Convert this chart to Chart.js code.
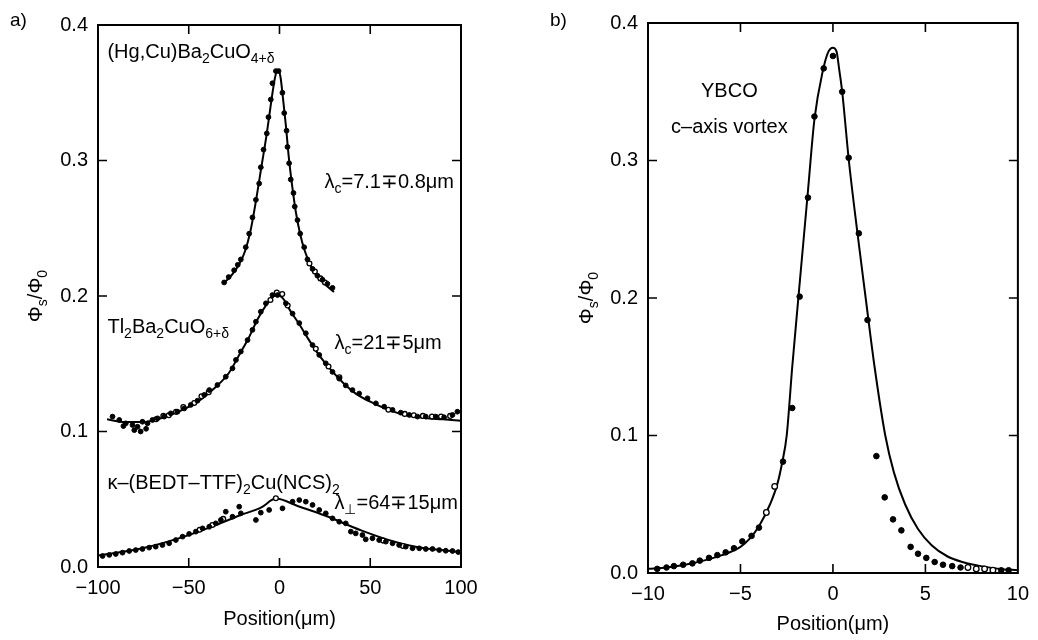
<!DOCTYPE html>
<html>
<head>
<meta charset="utf-8">
<script src="https://cdn.jsdelivr.net/npm/chart.js@4"></script>
<style>
  body { margin: 0; background: #fff; width: 1038px; height: 640px; position: relative; overflow: hidden; }
  .panel { position: absolute; top: 0; height: 640px; }
  #wrapA { left: 0; width: 520px; }
  #wrapB { left: 540px; width: 498px; }
</style>
</head>
<body>
<div class="panel" id="wrapA"><canvas id="chartA"></canvas></div>
<div class="panel" id="wrapB"><canvas id="chartB"></canvas></div>
<script>
// ---- panel a) ----
const xTicksA = [-100, -50, 0, 50, 100];
const yTicks = [0, 0.1, 0.2, 0.3, 0.4];

// (Hg,Cu)Ba2CuO4+d
const hgFitX = [-31, -26, -22, -19, -16, -13, -10, -7, -4.5, -2.5, -1, 0.5, 2, 3.5, 5, 7, 9, 11.5, 14, 17, 20, 24, 30];
const hgFitY = [0.209, 0.216, 0.224, 0.233, 0.248, 0.270, 0.295, 0.320, 0.344, 0.361, 0.367, 0.362, 0.345, 0.326, 0.304, 0.281, 0.262, 0.245, 0.233, 0.223, 0.216, 0.210, 0.203];
const hgPtsX = [-30.5, -28, -25, -23, -21.3, -18.6, -16.7, -14.9, -13.0, -11.2, -10.3, -8.8, -7.0, -6.1, -4.8, -3.9, -2.0, -0.5, 1.6, 2.6, 3.9, 4.4, 5.3, 6.2, 7.7, 8.4, 9.9, 11.4, 13.6, 15.4, 18.2, 20.9, 23.7, 26.4, 29.2];
const hgPtsY = [0.210, 0.214, 0.219, 0.223, 0.227, 0.236, 0.246, 0.258, 0.271, 0.283, 0.295, 0.308, 0.320, 0.332, 0.345, 0.357, 0.366, 0.366, 0.350, 0.335, 0.322, 0.310, 0.298, 0.286, 0.276, 0.266, 0.256, 0.246, 0.236, 0.227, 0.220, 0.215, 0.212, 0.209, 0.206];
const hgOpenX = [16.5, 19.5, 22.5, 25];
const hgOpenY = [0.224, 0.218, 0.213, 0.210];

// Tl2Ba2CuO6+d
const tlFitX = [-95, -85, -75, -65, -55, -45, -35, -28, -22, -17, -12, -7, -3, -1, 2, 6, 11, 16, 22, 28, 35, 42, 50, 60, 70, 80, 90, 100];
const tlFitY = [0.109, 0.107, 0.107, 0.110, 0.115, 0.122, 0.133, 0.143, 0.157, 0.169, 0.183, 0.194, 0.200, 0.201, 0.198, 0.189, 0.179, 0.168, 0.156, 0.146, 0.136, 0.128, 0.122, 0.116, 0.112, 0.110, 0.109, 0.108];
const tlPtsX = [-92, -88.3, -84.7, -81, -78.2, -75.5, -72.7, -70, -67.2, -63.5, -59.9, -56.2, -52.5, -48.9, -45.2, -41.5, -38.7, -34.2, -29.6, -25.9, -24, -21.3, -17.6, -14.9, -13, -10.3, -7.5, -3.9, -1.1, 3.5, 7.2, 10.9, 14.5, 18.2, 21.9, 25.5, 29.2, 32.9, 36.5, 40.2, 43.9, 48.5, 53.1, 57.7, 62.3, 66.8, 71.5, 76, 80.6, 86.1, 90.7, 95.3, 98, -86, -80, -76.5, -73.5];
const tlPtsY = [0.111, 0.1085, 0.106, 0.1048, 0.1035, 0.1072, 0.106, 0.1085, 0.1097, 0.111, 0.1134, 0.1146, 0.117, 0.1196, 0.1227, 0.127, 0.1306, 0.1343, 0.1404, 0.1466, 0.1528, 0.159, 0.1675, 0.175, 0.181, 0.1884, 0.1946, 0.2007, 0.2007, 0.1946, 0.187, 0.18, 0.1725, 0.1638, 0.1565, 0.1503, 0.144, 0.139, 0.134, 0.1306, 0.128, 0.1245, 0.1208, 0.1183, 0.1159, 0.1139, 0.1122, 0.111, 0.111, 0.111, 0.1105, 0.1122, 0.1146, 0.104, 0.101, 0.100, 0.102];
const tlOpenX = [-68, -64, -61, -57, -53, -47, -43, -39, -5, -1.5, 1.5, 4.5, 20, 27, 33, 60, 69, 74, 79, 84, 89, 94];
const tlOpenY = [0.109, 0.1115, 0.112, 0.1145, 0.118, 0.121, 0.126, 0.129, 0.197, 0.2025, 0.2015, 0.193, 0.161, 0.148, 0.140, 0.116, 0.113, 0.112, 0.1115, 0.111, 0.111, 0.1115];

// k-(BEDT-TTF)2Cu(NCS)2
const etFitX = [-100, -75, -50, -35, -22, -10, -2, 10, 25, 45, 60, 75, 100];
const etFitY = [0.0085, 0.014, 0.0235, 0.031, 0.038, 0.044, 0.0505, 0.045, 0.038, 0.027, 0.020, 0.015, 0.011];
const etPtsX = [-97.5, -93.8, -90.2, -86.5, -82.8, -79.2, -75.5, -71.8, -68.2, -64.5, -60.8, -57.1, -53.4, -49.8, -46.1, -42.4, -38.7, -35.1, -32.3, -29.6, -25.9, -22.2, -21.3, -13.0, -10.3, -5.7, 1.65, 7.2, 10.9, 14.5, 18.2, 21.9, 25.5, 29.2, 32.9, 36.5, 39.3, 42, 45.7, 47.5, 51.2, 54.9, 58.6, 62.3, 65.9, 69.6, 73.3, 77, 80.6, 84.3, 88, 91.6, 95.3, 98.5];
const etPtsY = [0.0081, 0.0089, 0.0096, 0.0106, 0.0118, 0.0125, 0.0133, 0.0143, 0.015, 0.0162, 0.0175, 0.0199, 0.0224, 0.0244, 0.0261, 0.0285, 0.0297, 0.0322, 0.0347, 0.0408, 0.0371, 0.0445, 0.0396, 0.0347, 0.0401, 0.0421, 0.0433, 0.0482, 0.0494, 0.0482, 0.0458, 0.0421, 0.0396, 0.0359, 0.0334, 0.0322, 0.0261, 0.0248, 0.0236, 0.0204, 0.0212, 0.0199, 0.0187, 0.0175, 0.0162, 0.015, 0.0138, 0.0138, 0.0133, 0.0133, 0.0125, 0.012, 0.0118, 0.011];
const etOpenX = [-44, -37, -31, -2, 57, 68];
const etOpenY = [0.0275, 0.031, 0.0355, 0.0507, 0.0195, 0.0155];

// ---- panel b) YBCO ----
const xTicksB = [-10, -5, 0, 5, 10];
const ybFitX = [-10, -9, -8, -7, -6, -5, -4.5, -4, -3.4, -3, -2.75, -2.5, -2.2, -1.87, -1.35, -1.0, -0.55, -0.25, 0, 0.2, 0.33, 0.5, 0.86, 1.3, 1.77, 2.25, 2.83, 3.3, 3.9, 4.6, 5.35, 6.2, 7, 8, 9, 10];
const ybFitY = [0.003, 0.004, 0.006, 0.009, 0.013, 0.019, 0.025, 0.034, 0.050, 0.065, 0.080, 0.100, 0.150, 0.200, 0.278, 0.330, 0.365, 0.379, 0.382, 0.379, 0.367, 0.350, 0.300, 0.250, 0.200, 0.150, 0.100, 0.073, 0.050, 0.032, 0.020, 0.012, 0.008, 0.005, 0.003, 0.002];
const ybPtsX = [-9.5, -9.0, -8.6, -8.1, -7.6, -7.2, -6.7, -6.25, -5.8, -5.35, -4.9, -4.4, -4.0, -2.7, -2.2, -1.8, -1.35, -1.0, -0.5, 0, 0.5, 0.85, 1.4, 1.87, 2.35, 2.8, 3.25, 3.7, 4.2, 4.6, 5.05, 5.5, 5.95, 6.45, 6.9, 9.1, 9.5];
const ybPtsY = [0.003, 0.004, 0.005, 0.006, 0.007, 0.009, 0.011, 0.013, 0.015, 0.018, 0.023, 0.027, 0.033, 0.081, 0.12, 0.201, 0.273, 0.332, 0.367, 0.376, 0.35, 0.302, 0.247, 0.184, 0.085, 0.055, 0.039, 0.031, 0.019, 0.014, 0.011, 0.008, 0.006, 0.005, 0.004, 0.002, 0.002];
const ybOpenX = [-3.15, -3.6, 7.3, 7.75, 8.2, 8.65];
const ybOpenY = [0.063, 0.044, 0.004, 0.003, 0.003, 0.002];

const FONT = '"Liberation Sans", Arial, sans-serif';
const zip = (xs, ys) => xs.map((x, i) => ({ x, y: ys[i] }));

function drawRich(ctx, parts, x, y, size, align) {
  const sub = Math.round(size * 0.68);
  let w = 0;
  const widths = parts.map(([t, s]) => {
    ctx.font = (s ? sub : size) + 'px ' + FONT;
    const m = ctx.measureText(t).width;
    w += m;
    return m;
  });
  let cx = align === 'center' ? x - w / 2 : x;
  ctx.textAlign = 'left';
  ctx.textBaseline = 'middle';
  parts.forEach(([t, s], i) => {
    ctx.font = (s ? sub : size) + 'px ' + FONT;
    ctx.fillText(t, cx, s ? y + size * 0.35 : y);
    cx += widths[i];
  });
}

// frame, inward ticks on all four sides, annotations
const frame = {
  id: 'frame',
  afterDatasetsDraw(chart, args, o) {
    const { ctx, chartArea: a, scales: { x, y } } = chart;
    ctx.save();
    ctx.strokeStyle = '#000';
    ctx.lineWidth = 2;
    ctx.strokeRect(a.left, a.top, a.right - a.left, a.bottom - a.top);
    ctx.lineWidth = 1.6;
    ctx.beginPath();
    x.ticks.forEach(t => {
      if (t.value <= x.min || t.value >= x.max) return;
      const p = x.getPixelForValue(t.value);
      ctx.moveTo(p, a.bottom); ctx.lineTo(p, a.bottom - 9);
      ctx.moveTo(p, a.top); ctx.lineTo(p, a.top + 9);
    });
    y.ticks.forEach(t => {
      if (t.value <= y.min || t.value >= y.max) return;
      const p = y.getPixelForValue(t.value);
      ctx.moveTo(a.left, p); ctx.lineTo(a.left + 9, p);
      ctx.moveTo(a.right, p); ctx.lineTo(a.right - 9, p);
    });
    ctx.stroke();

    ctx.fillStyle = '#000';
    o.notes.forEach(n => drawRich(ctx, n.parts, x.getPixelForValue(n.x), y.getPixelForValue(n.y), 20, n.align || 'left'));

    ctx.font = '19px ' + FONT;
    ctx.textAlign = 'left';
    ctx.textBaseline = 'middle';
    ctx.fillText(o.tag, 10, 21);

    ctx.font = '20px ' + FONT;
    ctx.textAlign = 'center';
    ctx.fillText('Position(\u03bcm)', (a.left + a.right) / 2, o.xTitleY);

    ctx.translate(o.yTitleX, (a.top + a.bottom) / 2);
    ctx.rotate(-Math.PI / 2);
    drawRich(ctx, [['\u03a6', 0], ['s', 1], ['/\u03a6', 0], ['0', 1]], 0, 0, 20, 'center');
    ctx.restore();
  }
};

function fitSet(xs, ys) {
  return { data: zip(xs, ys), showLine: true, borderColor: '#000', borderWidth: 2, pointRadius: 0, cubicInterpolationMode: 'monotone', order: 2 };
}
function dotSet(xs, ys, r) {
  return { data: zip(xs, ys), showLine: false, pointRadius: r, pointBackgroundColor: '#000', pointBorderColor: '#000', pointBorderWidth: 1, order: 1 };
}
function openSet(xs, ys, r) {
  return { data: zip(xs, ys), showLine: false, pointRadius: r, pointBackgroundColor: '#fff', pointBorderColor: '#000', pointBorderWidth: 1.3, order: 1 };
}

function makeChart(id, cfg) {
  const tickFont = { family: FONT, size: 20 };
  return new Chart(document.getElementById(id), {
    type: 'scatter',
    data: { datasets: cfg.datasets },
    options: {
      responsive: true,
      maintainAspectRatio: false,
      animation: false,
      layout: { padding: cfg.padding },
      plugins: { legend: { display: false }, tooltip: { enabled: false }, frame: cfg.frame },
      scales: {
        x: {
          type: 'linear', min: cfg.xTicks[0], max: cfg.xTicks[cfg.xTicks.length - 1],
          afterBuildTicks: s => { s.ticks = cfg.xTicks.map(v => ({ value: v })); },
          ticks: { color: '#000', font: tickFont, padding: 9, maxRotation: 0,
            callback: v => (v < 0 ? '\u2212' + Math.abs(v) : String(v)) },
          grid: { display: false, drawTicks: false },
          border: { display: false },
          afterFit: s => { s.height = cfg.xHeight; }
        },
        y: {
          type: 'linear', min: 0, max: 0.4,
          afterBuildTicks: s => { s.ticks = yTicks.map(v => ({ value: v })); },
          ticks: { color: '#000', font: tickFont, padding: 10, callback: v => v.toFixed(1) },
          grid: { display: false, drawTicks: false },
          border: { display: false },
          afterFit: s => { s.width = cfg.yWidth; }
        }
      }
    },
    plugins: [frame]
  });
}

makeChart('chartA', {
  xTicks: xTicksA,
  padding: { top: 25, right: 59, left: 0, bottom: 0 },
  xHeight: 73,
  yWidth: 98,
  frame: {
    tag: 'a)', xTitleY: 619, yTitleX: 36,
    notes: [
      { x: -94.8, y: 0.380, parts: [['(Hg,Cu)Ba', 0], ['2', 1], ['CuO', 0], ['4+\u03b4', 1]] },
      { x: 24.8, y: 0.284, parts: [['\u03bb', 0], ['c', 1], ['=7.1\u22130.8\u03bcm', 0]] },
      { x: -94.8, y: 0.177, parts: [['Tl', 0], ['2', 1], ['Ba', 0], ['2', 1], ['CuO', 0], ['6+\u03b4', 1]] },
      { x: 30.3, y: 0.165, parts: [['\u03bb', 0], ['c', 1], ['=21\u22135\u03bcm', 0]] },
      { x: -94.8, y: 0.062, parts: [['\u03ba\u2013(BEDT\u2013TTF)', 0], ['2', 1], ['Cu(NCS)', 0], ['2', 1]] },
      { x: 30.3, y: 0.047, parts: [['\u03bb', 0], ['\u22a5', 1], ['=64\u221315\u03bcm', 0]] }
    ]
  },
  datasets: [
    fitSet(hgFitX, hgFitY), dotSet(hgPtsX, hgPtsY, 2.4), openSet(hgOpenX, hgOpenY, 2.4),
    fitSet(tlFitX, tlFitY), dotSet(tlPtsX, tlPtsY, 2.4), openSet(tlOpenX, tlOpenY, 2.4),
    fitSet(etFitX, etFitY), dotSet(etPtsX, etPtsY, 2.4), openSet(etOpenX, etOpenY, 2.4)
  ]
});

makeChart('chartB', {
  xTicks: xTicksB,
  padding: { top: 23, right: 16, left: 0, bottom: 0 },
  xHeight: 67,
  yWidth: 108,
  frame: {
    tag: 'b)', xTitleY: 624, yTitleX: 47,
    notes: [
      { x: -5.6, y: 0.350, align: 'center', parts: [['YBCO', 0]] },
      { x: -5.6, y: 0.324, align: 'center', parts: [['c\u2013axis vortex', 0]] }
    ]
  },
  datasets: [
    fitSet(ybFitX, ybFitY), dotSet(ybPtsX, ybPtsY, 2.8), openSet(ybOpenX, ybOpenY, 2.8)
  ]
});
</script>
</body>
</html>
